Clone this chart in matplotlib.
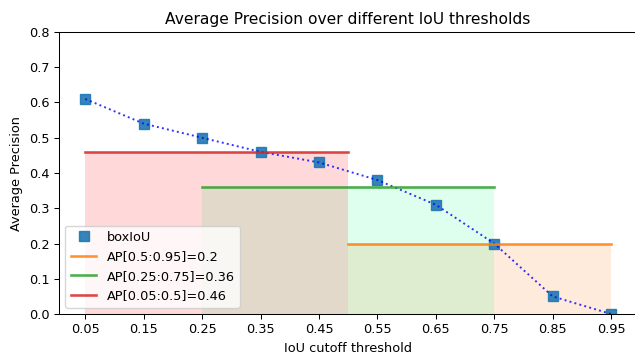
import numpy as np
import matplotlib
matplotlib.use("Agg")
import matplotlib.pyplot as plt

thresholds = [0.05, 0.15, 0.25, 0.35, 0.45, 0.55, 0.65, 0.75, 0.85, 0.95]
box_iou = [0.61, 0.54, 0.50, 0.46, 0.43, 0.38, 0.31, 0.20, 0.05, 0.0]

# (start, end, value, label)
ranges = [
    (0.5, 0.95, 0.2, "AP[0.5:0.95]=0.2"),
    (0.25, 0.75, 0.36, "AP[0.25:0.75]=0.36"),
    (0.05, 0.5, 0.46, "AP[0.05:0.5]=0.46"),
]
line_colors = ["tab:orange", "tab:green", "tab:red"]
fill_colors = ["tab:orange", "springgreen", "red"]
fill_alpha = [0.15, 0.13, 0.15]

# the reference looks like a 100 dpi figure shrunk a little
s = 0.93
plt.rcParams["font.size"] = 10 * s
plt.rcParams["axes.titlesize"] = 12 * s
plt.rcParams["axes.linewidth"] = 0.8 * s
plt.rcParams["xtick.major.width"] = 0.8 * s
plt.rcParams["ytick.major.width"] = 0.8 * s
plt.rcParams["xtick.major.size"] = 3.5 * s
plt.rcParams["ytick.major.size"] = 3.5 * s


def make_plot():
    fig = plt.figure(figsize=(6.35, 3.57), dpi=100)
    ax = fig.add_axes([0.0929, 0.1204, 0.9108, 0.79])

    ax.plot(thresholds, box_iou, "s", color="tab:blue", markersize=6.5,
            alpha=0.9, label="boxIoU")
    ax.plot(thresholds, box_iou, "b:", linewidth=1.5 * s, alpha=0.8)

    for (x0, x1, v, lab), lc, fc, a in zip(ranges, line_colors, fill_colors, fill_alpha):
        ax.plot([x0, x1], [v, v], color=lc, linewidth=2 * s, alpha=0.85, label=lab)
        ax.fill_between([x0, x1], [v, v], 0, color=fc, alpha=a, linewidth=0)

    ax.set_xlim(0.005, 0.995)
    ax.set_ylim(0, 0.8)
    ax.set_xticks(thresholds)
    ax.set_xticklabels([f"{t:.2f}" for t in thresholds])
    ax.set_yticks(np.arange(0, 0.81, 0.1))
    ax.set_xlabel("IoU cutoff threshold")
    ax.set_ylabel("Average Precision")
    ax.set_title("Average Precision over different IoU thresholds")
    ax.legend(loc="lower left")
    fig.savefig("out.png", dpi=100)


if __name__ == "__main__":
    make_plot()
